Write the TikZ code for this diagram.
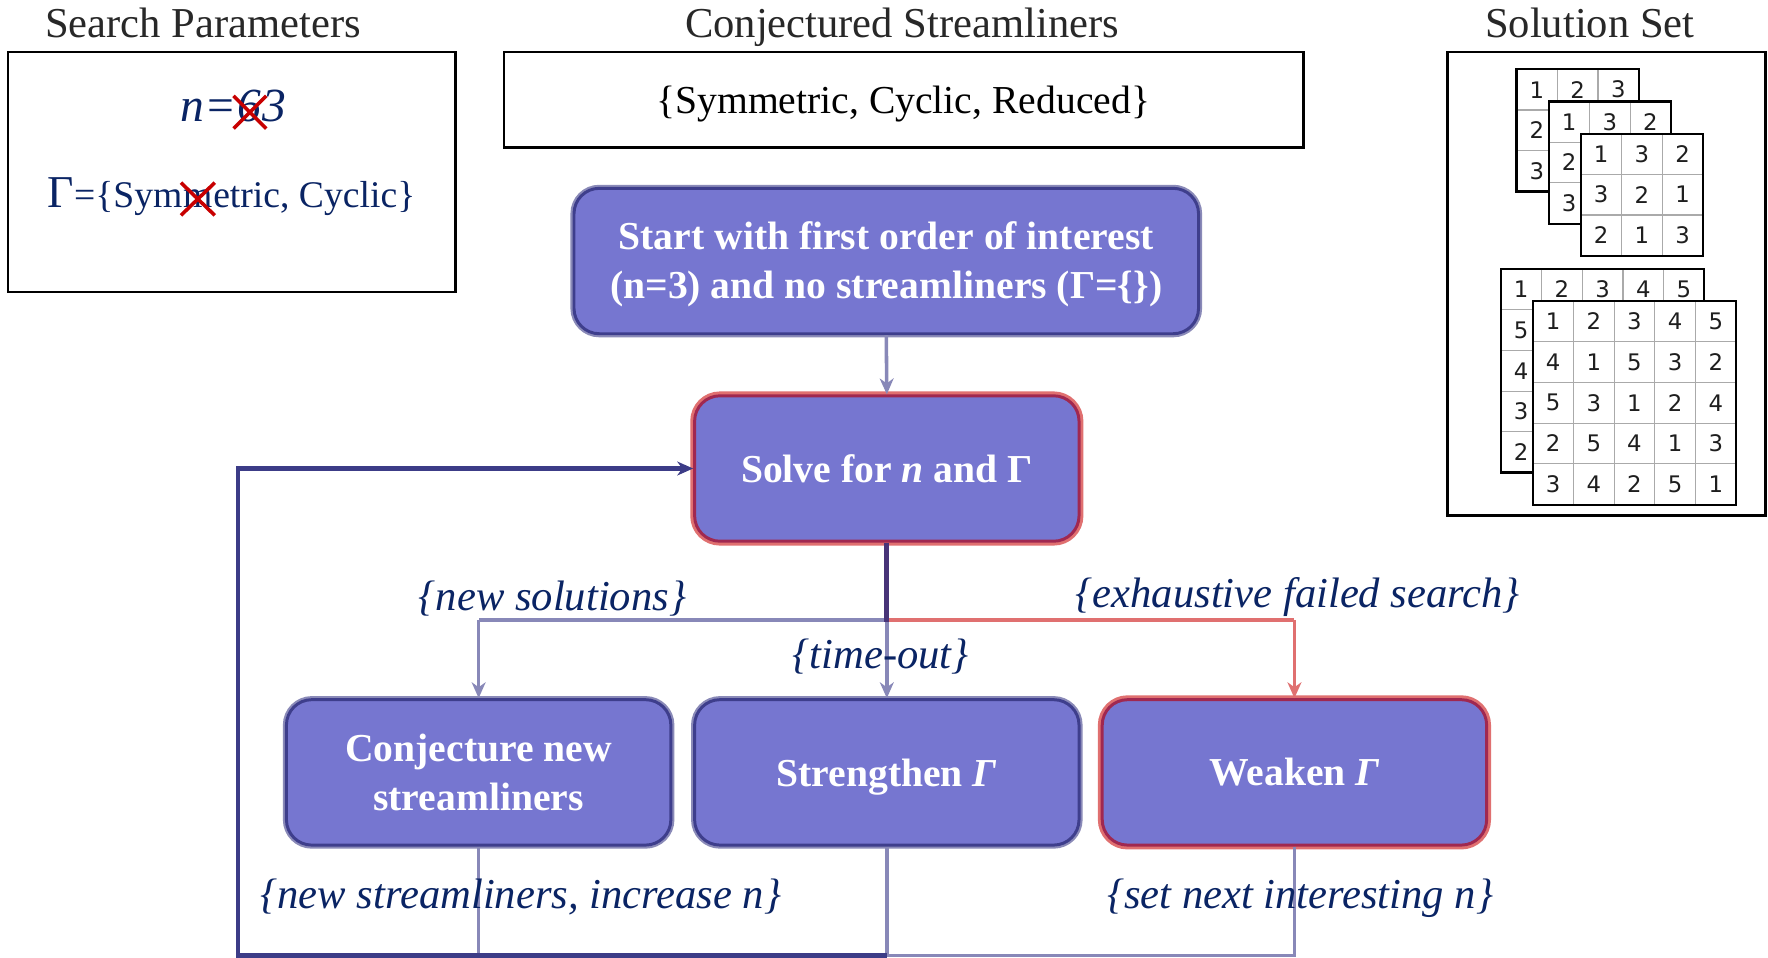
\documentclass[tikz,border=0pt]{standalone}
\usepackage{fontspec}
\setmainfont{Liberation Serif}
\newfontfamily\digitfont{DejaVu Sans}
\usetikzlibrary{arrows.meta}
\definecolor{boxfill}{RGB}{118,118,208}
\definecolor{bluedark}{RGB}{62,62,140}
\definecolor{bluelight}{RGB}{138,138,184}
\definecolor{reddark}{RGB}{160,40,80}
\definecolor{redlight}{RGB}{224,112,112}
\definecolor{navy}{RGB}{10,36,100}
\definecolor{loopblue}{RGB}{60,60,135}
\definecolor{stemdark}{RGB}{72,52,120}
\definecolor{connblue}{RGB}{136,136,184}
\definecolor{titlegray}{RGB}{40,40,40}
\definecolor{xred}{RGB}{200,0,0}
\definecolor{cellgray}{RGB}{170,170,170}
\tikzset{
  boxbase/.style={rounded corners=0.45cm, fill=boxfill, line width=1.5pt, text=white,
    font=\fontsize{20pt}{24.5pt}\selectfont\bfseries, align=center,
    minimum width=6.82cm, minimum height=2.58cm, inner sep=0pt},
  bluebox/.style={boxbase, draw=bluedark, preaction={draw=bluelight, line width=3.6pt}},
  redbox/.style={boxbase, draw=reddark, preaction={draw=redlight, line width=4.4pt}},
  panel/.style={draw=black, line width=1.35pt, fill=white, inner sep=0pt},
  ttl/.style={text=titlegray, font=\fontsize{21.5pt}{24pt}\selectfont, inner sep=0pt, anchor=base},
  lbl/.style={text=navy, font=\fontsize{21.5pt}{24pt}\selectfont\itshape, inner sep=0pt, anchor=base},
  conn/.style={draw=connblue, line width=1.8pt},
  arr/.style={-{Stealth[length=8pt,width=7pt,inset=2.5pt]}},
  xmark/.style={draw=xred, line width=1.8pt},
  cellline/.style={draw=cellgray, line width=0.6pt},
  gridborder/.style={draw=black, line width=1.1pt},
  digit/.style={inner sep=0pt, text={rgb,255:red,30;green,30;blue,30}, font=\digitfont\fontsize{11.5pt}{12pt}\selectfont},
  sptext/.style={anchor=base west, inner sep=0pt, text=navy},
}
% #1 name, #2 x, #3 y, #4 size, #5 rows, #6 1 = all digits, 0 = only first row and column (the rest is hidden)
\newcommand\latinsq[6]{%
  \fill[white] (#2,#3) rectangle ++(#4*36.1,#4*36.1);
  \foreach \k in {1,...,4}{\ifnum\k<#4\relax
     \draw[cellline] (#2+\k*36.1,#3) -- ++(0,#4*36.1);
     \draw[cellline] (#2,#3+\k*36.1) -- ++(#4*36.1,0);\fi}
  \foreach \row [count=\r from 0] in {#5}{%
    \foreach \v [count=\c from 0] in \row {%
      \ifnum\numexpr\r*\c*(1-#6)\relax=0
      \node[digit] (#1-\r-\c) at (#2+\c*36.1+18.05,#3+\r*36.1+18.05) {\v};\fi}}
  \draw[gridborder] (#2,#3) rectangle ++(#4*36.1,#4*36.1);
}
\begin{document}
\begin{tikzpicture}[x=0.02cm, y=-0.02cm]
\fill[white] (0,0) rectangle (1568,849);
\useasboundingbox (0,0) rectangle (1568,849);

% titles
\node[ttl] (t1) at (180,33) {Search Parameters};
\node[ttl] (t2) at (800,33) {Conjectured Streamliners};
\node[ttl] (t3) at (1410,33) {Solution Set};

% panels
\node[panel, minimum width=7.94cm, minimum height=4.26cm] (sp) at (205.5,152.5) {};
\node[panel, minimum width=14.18cm, minimum height=1.7cm] (cs) at (801.5,88.5) {};
\node[panel, minimum width=5.64cm, minimum height=8.22cm] (ss) at (1425,251.5) {};

\node[anchor=base, inner sep=0pt, font=\fontsize{20pt}{24pt}\selectfont] (cstext) at (801,101) {\{Symmetric, Cyclic, Reduced\}};

% search parameters
\node[sptext, font=\fontsize{24pt}{24pt}\selectfont\itshape] (nq) at (160,108) {n=};
\node[sptext, font=\fontsize{24pt}{24pt}\selectfont\itshape] (nsix) at (nq.base east) {6};
\node[sptext, font=\fontsize{24pt}{24pt}\selectfont\itshape] (nthree) at (nsix.base east) {3};
\draw[xmark] ([shift={(-14,-23)}]nsix.base) -- ([shift={(15,6)}]nsix.base);
\draw[xmark] ([shift={(-14,6)}]nsix.base) -- ([shift={(15,-23)}]nsix.base);

\node[sptext, font=\fontsize{19pt}{24pt}\selectfont] (g1) at (42,184) {{\fontsize{23pt}{24pt}\selectfont Γ}=\{Sym};
\node[sptext, font=\fontsize{19pt}{24pt}\selectfont] (gm) at (g1.base east) {m};
\node[sptext, font=\fontsize{19pt}{24pt}\selectfont] (g2) at (gm.base east) {etric, Cyclic\}};
\draw[xmark] ([shift={(-15,-22)}]gm.base) -- ([shift={(15,7)}]gm.base);
\draw[xmark] ([shift={(-15,7)}]gm.base) -- ([shift={(15,-22)}]gm.base);

% solution set grids
\latinsq{ga}{1345}{61.5}{3}{{1,2,3},{2,3,1},{3,1,2}}{0}
\latinsq{gb}{1373.5}{90}{3}{{1,3,2},{2,1,3},{3,2,1}}{0}
\latinsq{gc}{1402}{118.5}{3}{{1,3,2},{3,2,1},{2,1,3}}{1}
\latinsq{gd}{1331}{238.6}{5}{{1,2,3,4,5},{5,1,2,3,4},{4,5,1,2,3},{3,4,5,1,2},{2,3,4,5,1}}{0}
\latinsq{ge}{1359.3}{267}{5}{{1,2,3,4,5},{4,1,5,3,2},{5,3,1,2,4},{2,5,4,1,3},{3,4,2,5,1}}{1}

% flow boxes
\node[bluebox, minimum width=11.08cm] (start) at (786,231.5) {\rule{0pt}{17.5pt}Start with first order of interest\\(n=3) and no streamliners (Γ=\{\})};
\node[redbox] (solve) at (786.5,415.5) {Solve for \textit{n} and Γ};
\node[bluebox] (conj) at (424.5,685) {Conjecture new\\streamliners};
\node[bluebox, text depth=0pt] (stren) at (786.5,685) {Strengthen \textit{Γ}};
\node[redbox] (weak) at (1148,685) {Weaken \textit{Γ}};

\coordinate (split) at (786.5,550);
\coordinate (bot) at (0,847.5);
\coordinate (loopc) at (211,0);

% connectors
\draw[conn, arr] (start.south) -- (solve.north);
\draw[draw=connblue, line width=2.2pt] (split) -- (conj.north |- split);
\draw[draw=redlight, line width=2.2pt] (split) -- (weak.north |- split);
\draw[conn, arr] (conj.north |- split) -- (conj.north);
\draw[draw=redlight, line width=1.8pt, arr] (weak.north |- split) -- (weak.north);
\draw[conn, arr] (split) -- (stren.north);
\draw[draw=stemdark, line width=2.5pt] (solve.south) -- ([yshift=-1pt]split);

\draw[conn] (weak.south) -- (weak.south |- bot) -- (stren.south |- bot);
\draw[conn] (stren.south) -- (stren.south |- bot);
\draw[conn] (conj.south) -- (conj.south |- bot);
\draw[draw=loopblue, line width=2.4pt, arr] (stren.south |- bot) -- (loopc |- bot) -- (loopc |- solve.west) -- (solve.west);

% labels
\node[lbl] (lnew) at (490,541) {\{new solutions\}};
\node[lbl] (lexh) at (1151,539) {\{exhaustive failed search\}};
\node[lbl] (ltime) at (781,593) {\{time-out\}};
\node[lbl] (lstr) at (462,806) {\{new streamliners, increase n\}};
\node[lbl] (lset) at (1153,806) {\{set next interesting n\}};
\end{tikzpicture}
\end{document}
